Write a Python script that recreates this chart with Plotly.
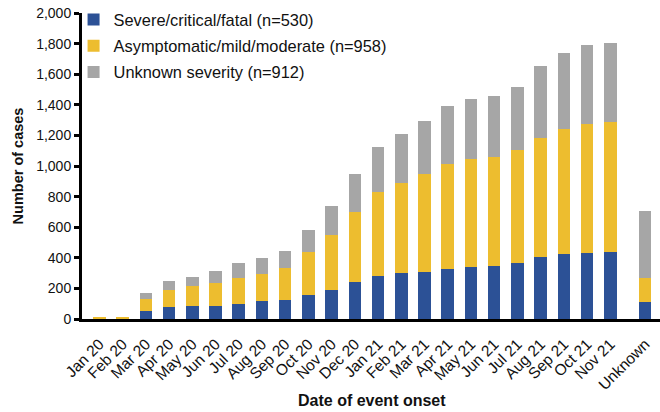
import plotly.graph_objects as go

categories = ["Jan 20", "Feb 20", "Mar 20", "Apr 20", "May 20", "Jun 20", "Jul 20",
              "Aug 20", "Sep 20", "Oct 20", "Nov 20", "Dec 20", "Jan 21", "Feb 21",
              "Mar 21", "Apr 21", "May 21", "Jun 21", "Jul 21", "Aug 21", "Sep 21",
              "Oct 21", "Nov 21", "Unknown"]
severe = [0, 0, 52, 78, 85, 85, 98, 117, 124, 157, 189, 241, 281, 300, 307, 326,
          339, 346, 365, 405, 424, 431, 437, 111]
mild = [15, 16, 78, 111, 130, 150, 170, 177, 209, 280, 359, 457, 548, 587, 639, 685,
        705, 711, 738, 776, 816, 841, 848, 157]
unknown = [0, 0, 40, 59, 59, 78, 97, 104, 111, 144, 189, 248, 293, 320, 346, 379,
           392, 398, 411, 470, 496, 516, 522, 437]
series_names = ["Severe/critical/fatal (n=530)",
                "Asymptomatic/mild/moderate (n=958)",
                "Unknown severity (n=912)"]
y_ticks = [0, 200, 400, 600, 800, 1000, 1200, 1400, 1600, 1800, 2000]

colors = ["#2c5196", "#edbd2f", "#a6a6a6"]
FONT = "Liberation Sans, Arial, sans-serif"

# the "Unknown" column is set apart from the monthly columns by an extra half slot
n_months = len(categories) - 1
x_pos = list(range(n_months)) + [n_months + 0.5]

fig = go.Figure()
for i, (name, vals) in enumerate(zip(series_names, [severe, mild, unknown])):
    fig.add_trace(go.Bar(
        x=x_pos, y=vals, name=name, marker_color=colors[i], marker_line_width=0,
        width=0.54, legendgroup=f"g{i}",
    ))

fig.update_layout(
    barmode="stack",
    width=660, height=412,
    margin=dict(l=82, r=0, t=13, b=93, autoexpand=False),
    plot_bgcolor="white", paper_bgcolor="white",
    font=dict(family=FONT, size=14, color="#111111"),
    showlegend=True,
    legend=dict(x=-0.0146, y=1.035, xanchor="left", yanchor="top",
                traceorder="grouped", tracegroupgap=2,
                font=dict(size=16.4, color="#111111"),
                bgcolor="rgba(0,0,0,0)"),
    xaxis=dict(
        range=[-0.75, 24.14], tickmode="array", tickvals=x_pos, ticktext=categories,
        tickangle=-45, showline=True, linecolor="black", linewidth=3,
        ticks="outside", ticklen=7, tickcolor="rgba(0,0,0,0)",
        showgrid=False, zeroline=False, tickfont=dict(size=15.5),
        automargin=False,
    ),
    yaxis=dict(
        range=[0, 2000], tickmode="array", tickvals=y_ticks,
        ticktext=[f"{v:,}" for v in y_ticks],
        showline=True, linecolor="black", linewidth=3,
        ticks="outside", ticklen=5, tickwidth=3, tickcolor="black",
        showgrid=False, zeroline=False, tickfont=dict(size=14),
        title=dict(text="<b>Number of cases</b>", font=dict(size=14.5), standoff=10),
        automargin=False,
    ),
    annotations=[dict(
        text="<b>Date of event onset</b>", xref="paper", yref="paper",
        x=0.502, y=0, yshift=-81, xanchor="center", yanchor="middle",
        showarrow=False, font=dict(size=16, color="#111111"),
    )],
)

fig.write_html("out.html", config={"displayModeBar": False},
               post_script="document.body.style.margin='0';document.body.style.overflow='hidden';")
